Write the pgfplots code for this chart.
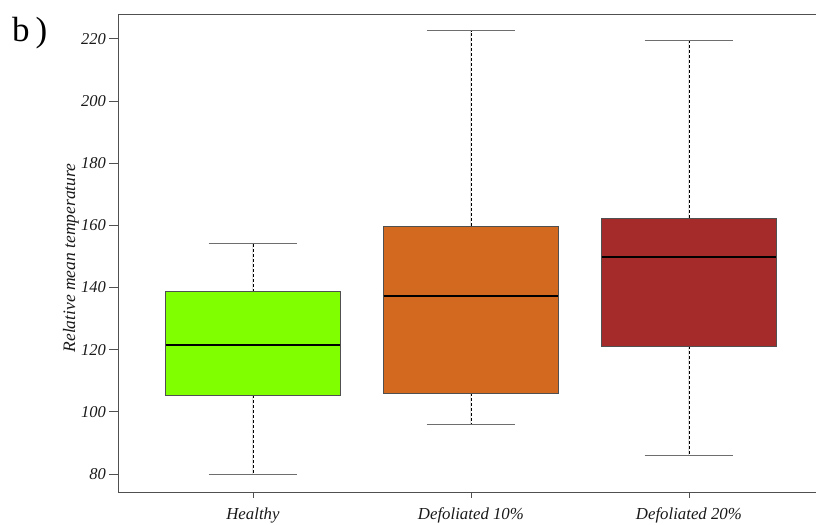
\documentclass[border=0pt]{standalone}
\usepackage{pgfplots}
\pgfplotsset{compat=1.18}
\usepgfplotslibrary{statistics}
\usepackage{fontspec}
\setmainfont{Liberation Serif}
\definecolor{cgreen}{RGB}{127,255,0}
\definecolor{corange}{RGB}{210,105,30}
\definecolor{cbrown}{RGB}{165,42,42}
\definecolor{axgray}{RGB}{80,80,80}
\definecolor{capgray}{RGB}{110,110,110}
\begin{document}
\begin{tikzpicture}[x=1pt,y=1pt]
\begin{axis}[
  at={(118pt,33pt)}, anchor=south west,
  scale only axis, width=698pt, height=478pt,
  xmin=0.381, xmax=3.583, ymin=74.2, ymax=228,
  axis lines*=left,
  axis line style={axgray, line width=0.8pt},
  xtick={1,2,3}, xticklabels={Healthy, Defoliated 10\%, Defoliated 20\%},
  ytick={80,100,...,220},
  tick align=outside,
  major tick length=9pt,
  xtick style={axgray, line width=0.8pt, /pgfplots/major tick length=6pt},
  ytick style={axgray, line width=0.8pt},
  /pgf/number format/assume math mode=true,
  yticklabel style={font=\fontsize{16.5}{16.5}\selectfont\itshape, text=black!90, inner sep=1.5pt, xshift=-1.5pt},
  xticklabel style={font=\fontsize{16.8}{16.8}\selectfont\itshape, text=black!90, yshift=-3pt},
  boxplot/draw direction=y,
  boxplot/box extend=0.8,
  boxplot/whisker extend=0.404,
  boxplot/every median/.style={black, line width=1.6pt},
  boxplot/draw/lower whisker/.code={%
    \draw[dash pattern=on 3pt off 2pt, black, line width=0.6pt] (boxplot cs:\pgfplotsboxplotvalue{lower quartile}) -- (boxplot cs:\pgfplotsboxplotvalue{lower whisker});
    \draw[capgray, line width=0.9pt] (boxplot whisker cs:\pgfplotsboxplotvalue{lower whisker},0) -- (boxplot whisker cs:\pgfplotsboxplotvalue{lower whisker},1);
  },
  boxplot/draw/upper whisker/.code={%
    \draw[dash pattern=on 3pt off 2pt, black, line width=0.6pt] (boxplot cs:\pgfplotsboxplotvalue{upper quartile}) -- (boxplot cs:\pgfplotsboxplotvalue{upper whisker});
    \draw[capgray, line width=0.9pt] (boxplot whisker cs:\pgfplotsboxplotvalue{upper whisker},0) -- (boxplot whisker cs:\pgfplotsboxplotvalue{upper whisker},1);
  },
]
\addplot[fill=cgreen, draw=axgray, line width=0.7pt,
  boxplot prepared={draw position=1, lower whisker=79.7, lower quartile=105.4, median=121.5, upper quartile=138.6, upper whisker=154.3}] coordinates {};
\addplot[fill=corange, draw=axgray, line width=0.7pt,
  boxplot prepared={draw position=2, lower whisker=95.8, lower quartile=106.1, median=137.3, upper quartile=159.8, upper whisker=222.6}] coordinates {};
\addplot[fill=cbrown, draw=axgray, line width=0.7pt,
  boxplot prepared={draw position=3, lower whisker=86.1, lower quartile=121.2, median=149.8, upper quartile=162.4, upper whisker=219.4}] coordinates {};
\draw[axgray, line width=0.8pt] (rel axis cs:0,1) -- (rel axis cs:1,1);
\end{axis}
\node[rotate=90, font=\fontsize{17.5}{17.5}\selectfont\itshape, text=black!90] at (71pt,267pt) {Relative mean temperature};
\node[anchor=base west, font=\fontsize{35}{35}\selectfont, inner sep=0pt] at (12pt,483pt) {b\,)};
\pgfresetboundingbox
\useasboundingbox (0,0) rectangle (817pt,525pt);
\end{tikzpicture}
\end{document}
